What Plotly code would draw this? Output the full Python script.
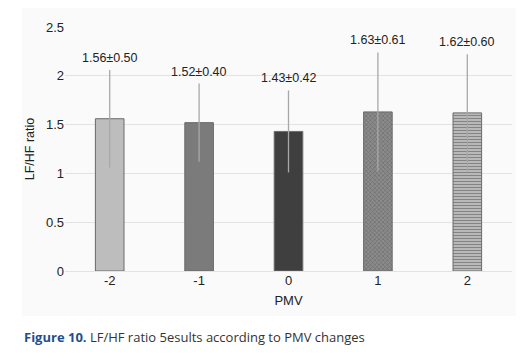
import plotly.graph_objects as go

categories = ["-2", "-1", "0", "1", "2"]
means = [1.56, 1.52, 1.43, 1.63, 1.62]
sds = [0.50, 0.40, 0.42, 0.61, 0.60]
y_ticks = [0, 0.5, 1, 1.5, 2, 2.5]
y_tick_labels = ["0", "0.5", "1", "1.5", "2", "2.5"]

bar_colors = ["#bdbdbd", "#7b7b7b", "#3f3f3f", "#8c8c8c", "#c4c4c4"]
pattern_shapes = ["", "", "", "x", "-"]
pattern_fg = ["#000", "#000", "#000", "#5e5e5e", "#4a4a4a"]
pattern_size = [6, 6, 6, 3, 3]
pattern_solidity = [0.3, 0.3, 0.3, 0.35, 0.45]

FONT = "Liberation Sans, Arial, sans-serif"

fig = go.Figure()
fig.add_trace(go.Bar(
    x=categories,
    y=means,
    marker=dict(
        color=bar_colors,
        line=dict(color="#6a6a6a", width=1),
        pattern=dict(shape=pattern_shapes, fgcolor=pattern_fg,
                     size=pattern_size, solidity=pattern_solidity),
    ),
    error_y=dict(type="data", array=sds, symmetric=True,
                 color="#a8a8a8", thickness=1.3, width=0),
    width=0.32,
    showlegend=False,
))

# value labels above the error bars (x = category index on the category axis)
for i, (m, s) in enumerate(zip(means, sds)):
    fig.add_annotation(x=i, y=m + s, xref="x", yref="y",
                       text=f"{m:.2f}±{s:.2f}",
                       showarrow=False, yanchor="bottom", yshift=3,
                       font=dict(family=FONT, size=12.5, color="#222"))

# light panel background
fig.add_shape(type="rect", xref="paper", yref="paper",
              x0=-0.096, x1=1.009, y0=-0.184, y1=1.078,
              fillcolor="#fafafa", line=dict(width=0), layer="below")

fig.add_annotation(
    xref="paper", yref="paper", x=-0.096, y=-0.27,
    xanchor="left", yanchor="middle", showarrow=False,
    text="<b><span style='color:#1f4f8f'>Figure 10.</span></b> LF/HF ratio 5esults according to PMV changes",
    font=dict(family="Open Sans, Noto Sans, sans-serif", size=13, color="#333"),
)

fig.update_layout(
    width=516, height=349,
    margin=dict(l=57, r=12, t=19, b=86, autoexpand=False),
    paper_bgcolor="white",
    plot_bgcolor="rgba(0,0,0,0)",
    font=dict(family=FONT, size=13, color="#222"),
    xaxis=dict(
        type="category", automargin=False,
        title=dict(text="PMV", font=dict(size=13), standoff=8),
        showgrid=False, showline=False, zeroline=False,
        ticks="", tickfont=dict(size=13),
    ),
    yaxis=dict(
        automargin=False,
        title=dict(text="LF/HF ratio", font=dict(size=12.5), standoff=8),
        range=[0, 2.5], tickvals=y_ticks, ticktext=y_tick_labels,
        showgrid=True, gridcolor="#e3e3e3", gridwidth=1,
        zeroline=True, zerolinecolor="#e3e3e3", zerolinewidth=1,
        showline=False, ticks="", tickfont=dict(size=13),
    ),
)

fig.write_html("out.html")
